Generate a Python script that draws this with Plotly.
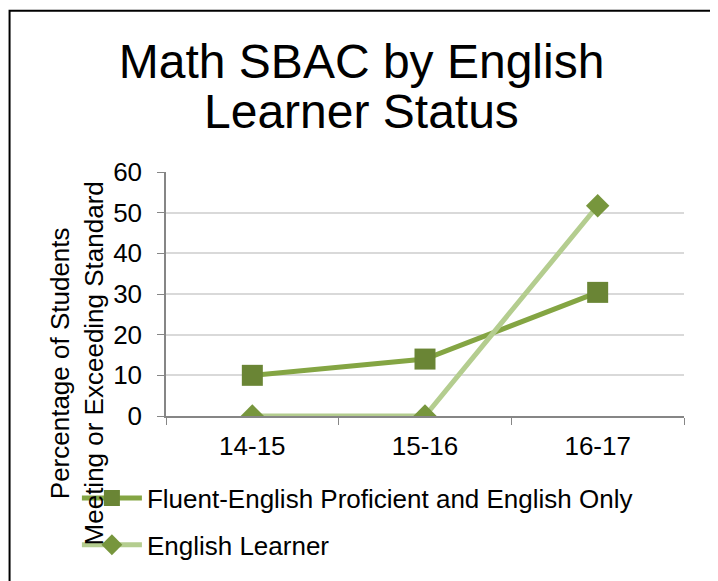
import plotly.graph_objects as go

years = ["14-15", "15-16", "16-17"]
fluent_english = [10, 14, 30.4]
english_learner = [0, 0, 51.7]

FONT = "Arial, Liberation Sans, sans-serif"
AXIS_GREY = "#868686"

fig = go.Figure()

fig.add_trace(
    go.Scatter(
        x=years,
        y=fluent_english,
        mode="lines+markers",
        name="Fluent-English Proficient and English Only",
        legendgroup="fep",
        line=dict(color="#84A543", width=5),
        marker=dict(symbol="square", size=21, color="#6A8535"),
    )
)
fig.add_trace(
    go.Scatter(
        x=years,
        y=english_learner,
        mode="lines+markers",
        name="English Learner",
        legendgroup="el",
        line=dict(color="#B4CD8F", width=5),
        marker=dict(symbol="diamond", size=18, color="#77963D"),
    )
)

fig.update_xaxes(
    range=[-0.5, 2.5],
    showline=True,
    linecolor=AXIS_GREY,
    linewidth=1.5,
    ticks="outside",
    tickson="boundaries",
    ticklen=7,
    tickcolor=AXIS_GREY,
    tickfont=dict(size=26, color="black"),
    ticklabelstandoff=6,
    showgrid=False,
)
fig.update_yaxes(
    range=[0, 60],
    dtick=10,
    showline=True,
    linecolor=AXIS_GREY,
    linewidth=1.5,
    ticks="outside",
    ticklen=7,
    tickcolor=AXIS_GREY,
    tickfont=dict(size=26, color="black"),
    ticklabelstandoff=10,
    gridcolor="#D9D9D9",
    gridwidth=1.5,
    zeroline=False,
)

# second title line, set tighter than plotly's default line height
fig.add_annotation(
    text="Learner Status",
    xref="paper",
    yref="paper",
    x=0.377,
    y=1.248,
    xanchor="center",
    yanchor="middle",
    showarrow=False,
    font=dict(size=48, color="black", family=FONT),
)

# y title sits low, like the original Excel chart
fig.add_annotation(
    text="Percentage of Students<br>Meeting or Exceeding Standard",
    textangle=-90,
    xref="paper",
    yref="paper",
    x=-0.172,
    y=0.215,
    xanchor="center",
    yanchor="middle",
    showarrow=False,
    font=dict(size=26, color="black", family=FONT),
)

# chart frame
fig.add_shape(
    type="rect",
    xref="paper",
    yref="paper",
    x0=-0.302,
    x1=1.056,
    y0=-0.8,
    y1=1.661,
    line=dict(color="black", width=2),
    layer="below",
)

fig.update_layout(
    width=710,
    height=573,
    margin=dict(l=158, r=34, t=164, b=163),
    paper_bgcolor="white",
    plot_bgcolor="white",
    font=dict(family=FONT, color="black"),
    title=dict(
        text="Math SBAC by English",
        font=dict(size=48, color="black"),
        x=0.498,
        xanchor="center",
        y=0.9075,
        yanchor="middle",
    ),
    showlegend=True,
    legend=dict(
        orientation="v",
        traceorder="grouped",
        x=-0.172,
        xanchor="left",
        y=-0.24,
        yanchor="top",
        font=dict(size=26),
        bgcolor="rgba(0,0,0,0)",
        itemwidth=60,
        tracegroupgap=10,
    ),
)

fig.write_html("out.html")
